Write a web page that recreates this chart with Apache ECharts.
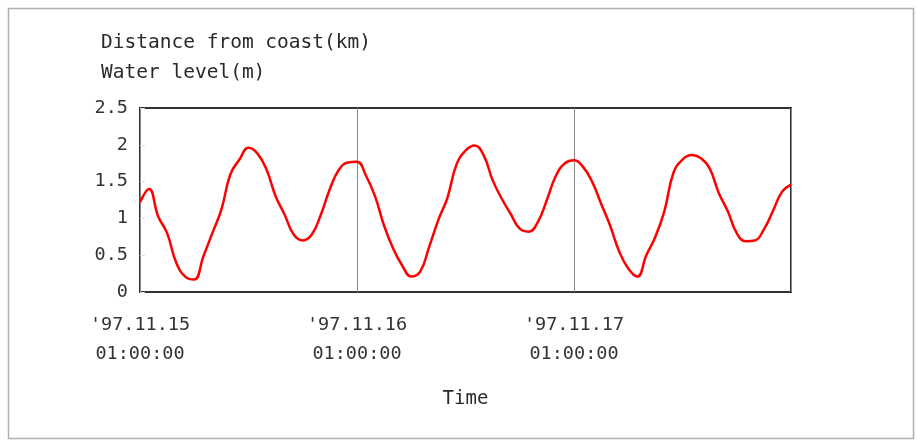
<!DOCTYPE html>
<html><head><meta charset="utf-8">
<script src="https://cdn.jsdelivr.net/npm/echarts@6/dist/echarts.min.js"></script>
<style>html,body{margin:0;padding:0;background:#fff}#c{width:917px;height:440px}</style>
</head><body><div id="c"></div>
<script>
// hours since '97.11.15 01:00:00
var hours = [];
for (var h = 0; h <= 72; h++) hours.push(h);
var waterLevel = [1.22,1.40,1.03,0.80,0.40,0.21,0.17,0.48,0.80,1.12,1.60,1.80,1.96,1.88,1.66,1.30,1.05,0.78,0.70,0.78,1.05,1.40,1.66,1.76,
  1.77,1.58,1.30,0.90,0.59,0.36,0.21,0.28,0.62,0.98,1.28,1.73,1.92,1.99,1.86,1.52,1.27,1.06,0.86,0.82,0.95,1.25,1.58,1.75,
  1.79,1.70,1.50,1.20,0.90,0.55,0.32,0.21,0.50,0.75,1.10,1.62,1.80,1.86,1.82,1.68,1.35,1.10,0.80,0.69,0.70,0.85,1.10,1.36,1.46];
var xTickLabels = ["'97.11.15\n01:00:00", "'97.11.16\n01:00:00", "'97.11.17\n01:00:00", ""];
var yTickLabels = ['0','0.5','1','1.5','2','2.5'];
var titleLines = ['Distance from coast(km)', 'Water level(m)'];
var xName = 'Time';

var font = '"DejaVu Sans Mono", monospace';
var chart = echarts.init(document.getElementById('c'));
chart.setOption({
  animation: false,
  backgroundColor: '#fff',
  graphic: [{
    type: 'rect', left: 6, top: 6,
    shape: {width: 905, height: 430},
    style: {fill: 'none', stroke: '#b0b0b0', lineWidth: 1.5}
  }],
  title: {
    text: titleLines.join('\n'), left: 96, top: 23,
    textStyle: {fontFamily: font, fontSize: 19.5, fontWeight: 'normal', color: '#2a2a2a', lineHeight: 30}
  },
  grid: {left: 140, right: 126, top: 108, bottom: 148, show: true, borderColor: '#333', borderWidth: 2, backgroundColor: 'transparent'},
  xAxis: {
    type: 'value', min: 0, max: 72, interval: 24,
    name: xName, nameLocation: 'middle', nameGap: 98,
    nameTextStyle: {fontFamily: font, fontSize: 19, color: '#2a2a2a'},
    axisLine: {show: false}, axisTick: {show: false},
    splitLine: {show: true, lineStyle: {color: '#888', width: 1}},
    axisLabel: {
      margin: 19, fontFamily: font, fontSize: 18.5, color: '#333', lineHeight: 29,
      formatter: function (v) { return xTickLabels[Math.round(v / 24)]; }
    }
  },
  yAxis: {
    type: 'value', min: 0, max: 2.5, interval: 0.5,
    axisLine: {show: false},
    axisTick: {show: true, inside: true, length: 5, lineStyle: {color: '#ddd'}},
    splitLine: {show: false},
    axisLabel: {
      margin: 12, fontFamily: font, fontSize: 18.5, color: '#333',
      formatter: function (v) { return yTickLabels[Math.round(v / 0.5)]; }
    }
  },
  series: [{
    type: 'line', data: hours.map(function (h, i) { return [h, waterLevel[i]]; }),
    showSymbol: false, smooth: 0.45,
    lineStyle: {color: '#ff0000', width: 2.5}
  }]
});
</script></body></html>
